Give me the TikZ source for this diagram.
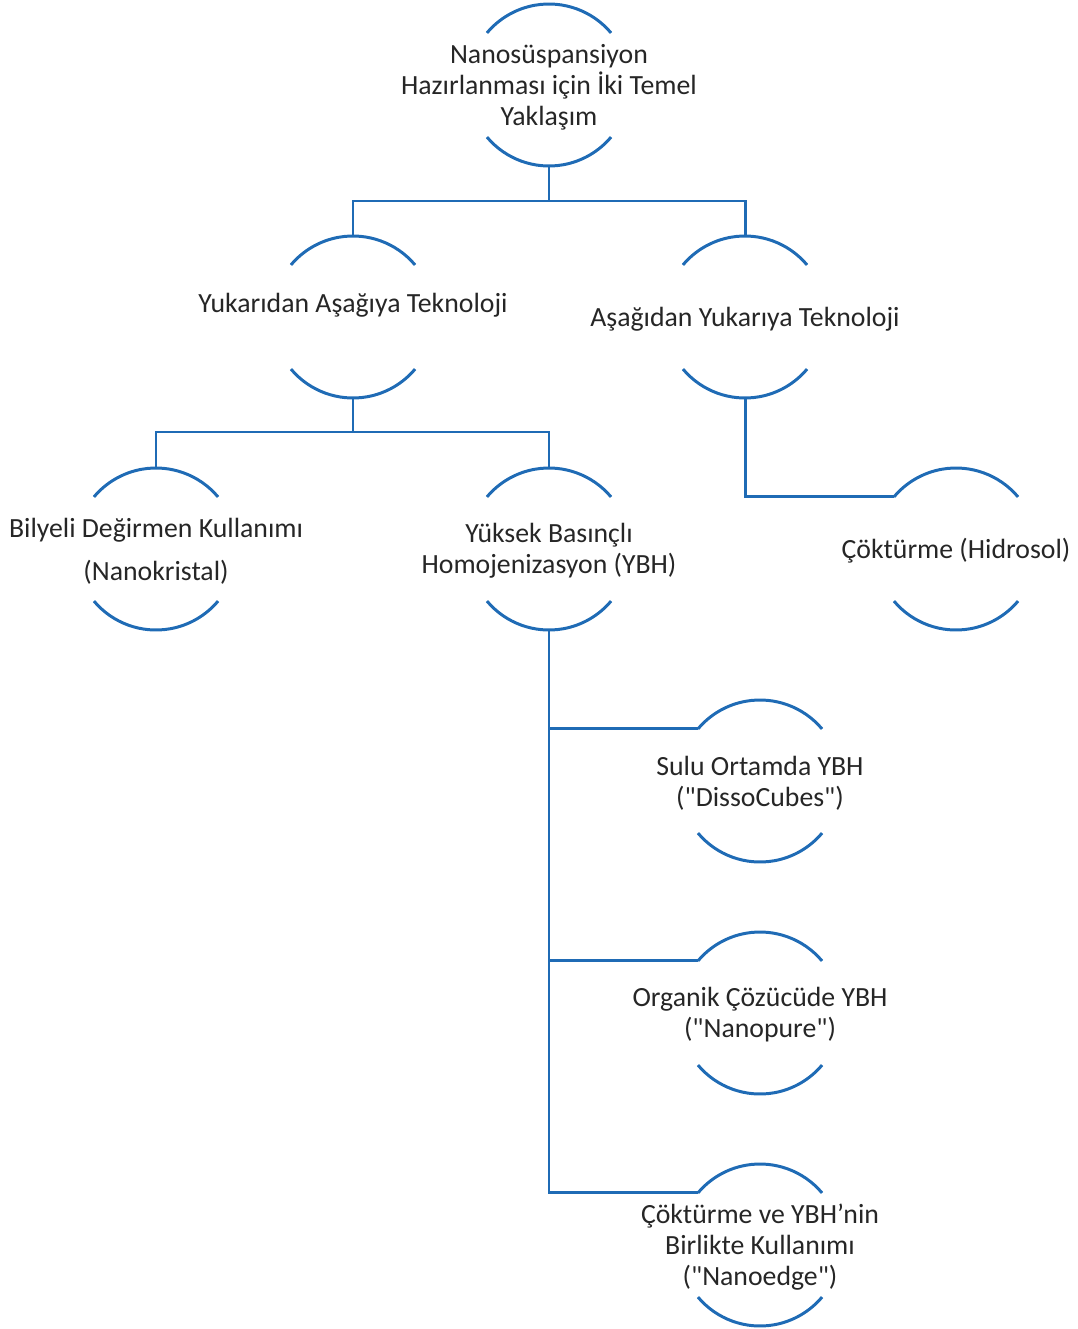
\documentclass[tikz,border=0pt]{standalone}
\usepackage{fontspec}
\setmainfont{Carlito}[Ligatures=TeXOff]
\usepackage{xcolor}
\usetikzlibrary{calc,positioning}
\definecolor{treeblue}{HTML}{1F6BB5}
\definecolor{treetext}{HTML}{262626}
\tikzset{
  halfcircle/.style={circle,minimum size=3.24cm,inner sep=0pt,outer sep=0pt},
  nodetext/.style={align=center,text=treetext,font=\fontsize{15.8}{17.6}\selectfont,inner sep=0pt,yshift=-0.04cm},
  arcline/.style={treeblue,line width=1.7pt},
  link/.style={treeblue,line width=1.7pt}
}

\begin{document}
\begin{tikzpicture}
\useasboundingbox (0,0) rectangle (21.56,-26.58);
% nodes
\node[halfcircle,label={[nodetext]center:{Nanosüspansiyon\\Hazırlanması için İki Temel\\Yaklaşım}}] (root) at (10.98,-1.70) {};
\node[halfcircle,label={[nodetext,yshift=0.28cm]center:{Yukarıdan Aşağıya Teknoloji}}] (topdown) at (7.06,-6.34) {};
\node[halfcircle,label={[nodetext]center:{Aşağıdan Yukarıya Teknoloji}}] (bottomup) at (14.90,-6.34) {};
\node[halfcircle,label={[nodetext]center:{Bilyeli Değirmen Kullanımı\\[0.24cm](Nanokristal)}}] (ballmill) at (3.12,-10.98) {};
\node[halfcircle,label={[nodetext]center:{Yüksek Basınçlı\\Homojenizasyon (YBH)}}] (hph) at (10.98,-10.98) {};
\node[halfcircle,label={[nodetext]center:{Çöktürme (Hidrosol)}}] (precip) at (19.12,-10.98) {};
\node[halfcircle,label={[nodetext]center:{Sulu Ortamda YBH\\("DissoCubes")}}] (disso) at (15.20,-15.62) {};
\node[halfcircle,label={[nodetext]center:{Organik Çözücüde YBH\\("Nanopure")}}] (nanopure) at (15.20,-20.26) {};
\node[halfcircle,label={[nodetext]center:{Çöktürme ve YBH’nin\\Birlikte Kullanımı\\("Nanoedge")}}] (nanoedge) at (15.20,-24.90) {};
% open arcs
\foreach \n in {root,topdown,bottomup,ballmill,hph,precip,disso,nanopure,nanoedge}{
  \draw[arcline] (\n.40) arc (40:140:1.62cm);
  \draw[arcline] (\n.220) arc (220:320:1.62cm);
}
% links
\draw[link] (root.south) -- ++(0,-0.70) -| (topdown.north);
\draw[link] (root.south) -- ++(0,-0.70) -| (bottomup.north);
\draw[link] (topdown.south) -- ++(0,-0.68) -| (ballmill.north);
\draw[link] (topdown.south) -- ++(0,-0.68) -| (hph.north);
\draw[link] (bottomup.south) |- (precip.140);
\draw[link] (hph.south) |- (disso.140);
\draw[link] (hph.south) |- (nanopure.140);
\draw[link] (hph.south) |- (nanoedge.140);
\end{tikzpicture}
\end{document}
